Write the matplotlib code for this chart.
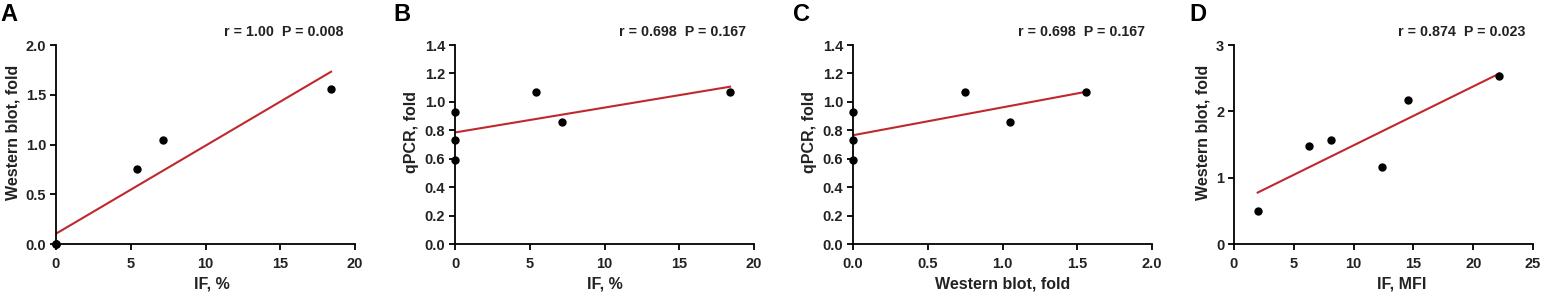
import matplotlib
matplotlib.use("Agg")
import matplotlib.pyplot as plt
import numpy as np

plt.rcParams["font.family"] = ["Liberation Sans", "DejaVu Sans"]
plt.rcParams["font.weight"] = "bold"

# ── Data ─────────────────────────────────────────────────────────────────────
if_pct = [0, 0, 0, 5.4, 7.15, 18.4]
wb_fold = [0, 0, 0, 0.75, 1.05, 1.56]
qpcr_fold = [0.93, 0.73, 0.59, 1.07, 0.86, 1.07]

if_mfi = [1.98, 6.25, 8.1, 12.4, 14.56, 22.18]
wb_fold_d = [0.50, 1.48, 1.57, 1.16, 2.17, 2.53]

letters = ["A", "B", "C", "D"]
stats = ["r = 1.00  P = 0.008", "r = 0.698  P = 0.167",
         "r = 0.698  P = 0.167", "r = 0.874  P = 0.023"]
xlabels = ["IF, %", "IF, %", "Western blot, fold", "IF, MFI"]
ylabels = ["Western blot, fold", "qPCR, fold", "qPCR, fold", "Western blot, fold"]

panels = [
    (if_pct, wb_fold, (0, 20), np.arange(0, 21, 5), (0, 2.0), np.arange(0, 2.01, 0.5), "{:.1f}"),
    (if_pct, qpcr_fold, (0, 20), np.arange(0, 21, 5), (0, 1.4), np.arange(0, 1.41, 0.2), "{:.1f}"),
    (wb_fold, qpcr_fold, (0, 2.0), np.arange(0, 2.01, 0.5), (0, 1.4), np.arange(0, 1.41, 0.2), "{:.1f}"),
    (if_mfi, wb_fold_d, (0, 25), np.arange(0, 26, 5), (0, 3), np.arange(0, 3.1, 1), "{:.0f}"),
]
xfmts = ["{:.0f}", "{:.0f}", "{:.1f}", "{:.0f}"]

W, H = 1543, 296
lefts = [56, 455, 853, 1234]
axw = 299
ax_top, ax_bot = 45, 244
LETTER_X = [0, 393, 793, 1189]
XLAB_X = [0.52, 0.5, 0.5, 0.56]      # x-label centres, axes fraction
STAT_X = [0.963, 0.973, 0.977, 0.973]  # right edge of r/P text, axes fraction
YLAB_Y = 0.563                       # y-label centre, axes fraction

RED = "#c0282d"
TXT = "#222222"

fig = plt.figure(figsize=(W / 100, H / 100), dpi=100)

for i, (x, y, xl, xt, yl, yt, yfmt) in enumerate(panels):
    ax = fig.add_axes([lefts[i] / W, (H - ax_bot) / H, axw / W, (ax_bot - ax_top) / H])
    x = np.asarray(x, float)
    y = np.asarray(y, float)

    # least-squares fit line across the data range
    k, b = np.polyfit(x, y, 1)
    xf = np.array([x.min(), x.max()])
    ax.plot(xf, k * xf + b, color=RED, lw=1.5, zorder=2)
    ax.plot(x, y, "o", color="black", ms=5, clip_on=False, zorder=3)

    ax.set_xlim(*xl)
    ax.set_ylim(*yl)
    ax.set_xticks(xt)
    ax.set_yticks(yt)
    ax.set_xticklabels([xfmts[i].format(v) for v in xt])
    ax.set_yticklabels([yfmt.format(v) for v in yt])

    for s in ("top", "right"):
        ax.spines[s].set_visible(False)
    for s in ("left", "bottom"):
        ax.spines[s].set_linewidth(1.3)
        ax.spines[s].set_color("black")
    ax.tick_params(direction="out", length=4, width=1.3, labelsize=10.5,
                   labelcolor=TXT)
    ax.tick_params(axis="x", pad=5.5)
    ax.tick_params(axis="y", pad=3)
    ax.set_xlabel(xlabels[i], fontsize=11.5, fontweight="bold", color=TXT, labelpad=4)
    ax.set_ylabel(ylabels[i], fontsize=11.5, fontweight="bold", color=TXT, labelpad=4)
    ax.xaxis.label.set_x(XLAB_X[i])
    ax.yaxis.label.set_y(YLAB_Y)

    ax.text(STAT_X[i], 1.03, stats[i], transform=ax.transAxes, ha="right", va="bottom",
            fontsize=10.3, fontweight="bold", color=TXT)
    fig.text(LETTER_X[i] / W, 1 - 3 / H, letters[i], ha="left", va="top",
             fontsize=17, fontweight="bold", color="black")

plt.savefig("out.png", dpi=100)
